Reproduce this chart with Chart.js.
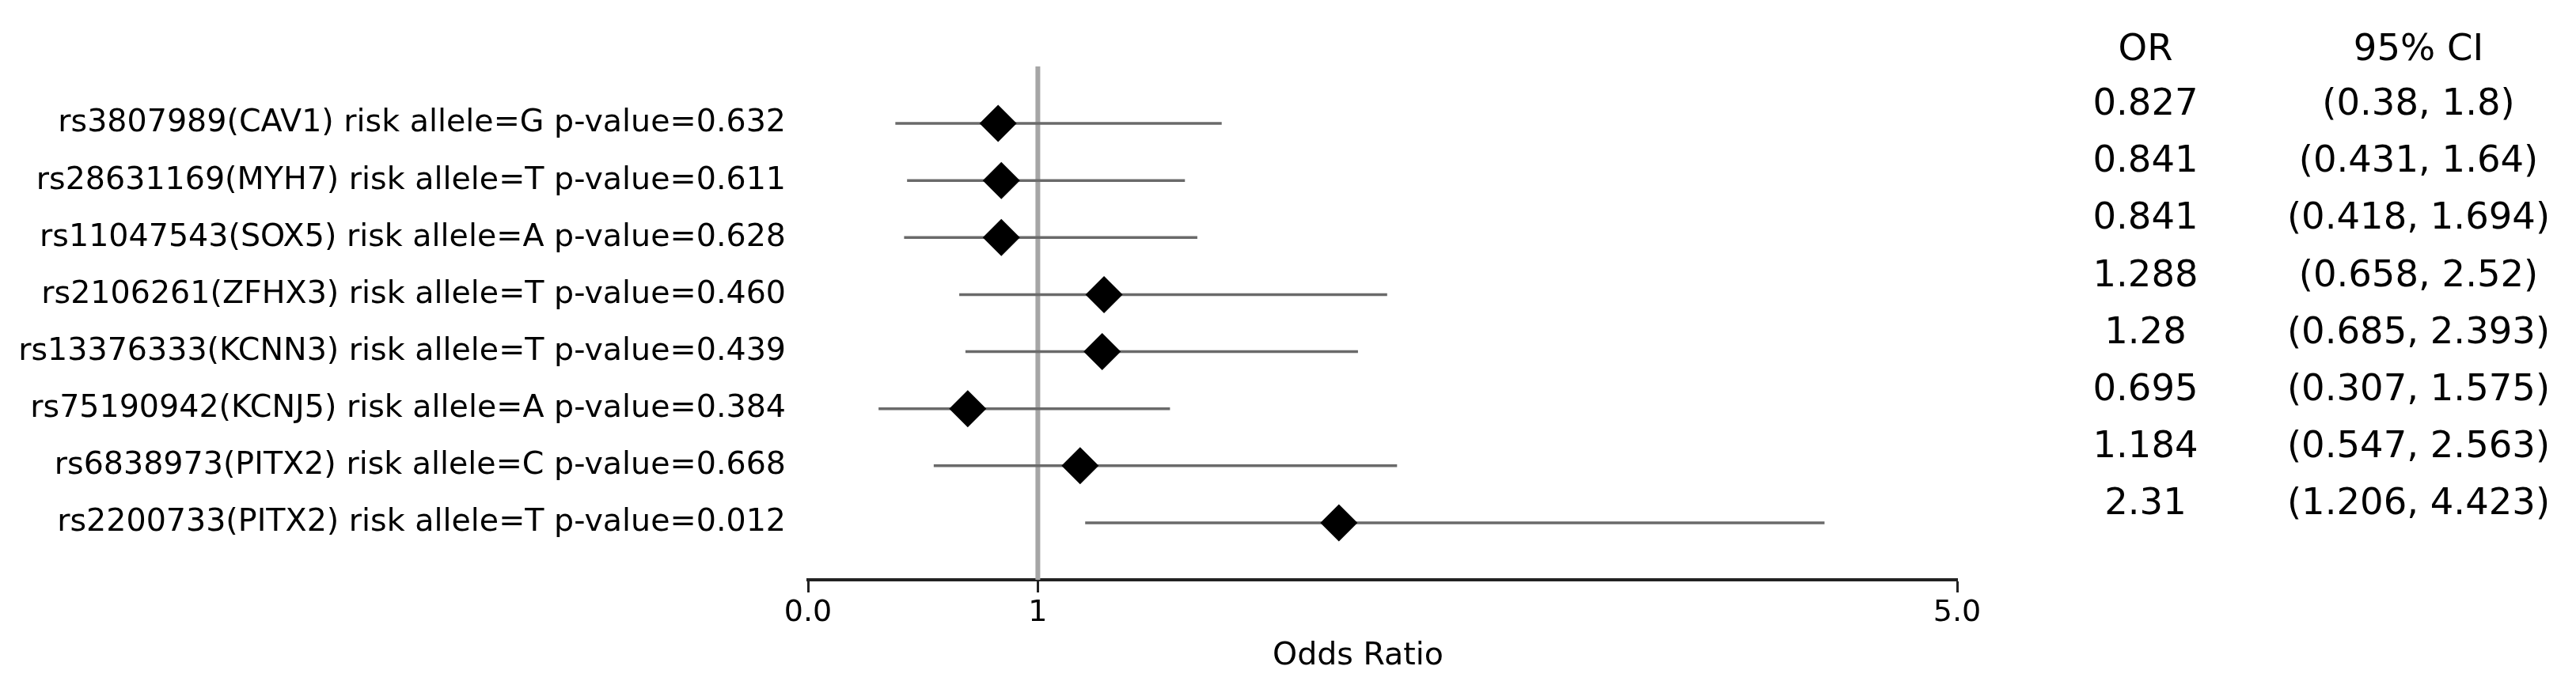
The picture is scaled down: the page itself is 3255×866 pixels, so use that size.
<!DOCTYPE html>
<html>
<head>
<meta charset="utf-8">
<script src="https://cdn.jsdelivr.net/npm/chart.js@4"></script>
<style>
  body { margin: 0; background: #fff; }
  canvas { display: block; }
</style>
</head>
<body>
<canvas id="forest" width="3255" height="866"></canvas>
<script>
const rowLabels = [
  "rs3807989(CAV1) risk allele=G p-value=0.632",
  "rs28631169(MYH7) risk allele=T p-value=0.611",
  "rs11047543(SOX5) risk allele=A p-value=0.628",
  "rs2106261(ZFHX3) risk allele=T p-value=0.460",
  "rs13376333(KCNN3) risk allele=T p-value=0.439",
  "rs75190942(KCNJ5) risk allele=A p-value=0.384",
  "rs6838973(PITX2) risk allele=C p-value=0.668",
  "rs2200733(PITX2) risk allele=T p-value=0.012"
];
const orValues = [0.827, 0.841, 0.841, 1.288, 1.28, 0.695, 1.184, 2.31];
const ciLow = [0.38, 0.431, 0.418, 0.658, 0.685, 0.307, 0.547, 1.206];
const ciHigh = [1.8, 1.64, 1.694, 2.52, 2.393, 1.575, 2.563, 4.423];
const xTicks = [0, 1, 5];
const xTickLabels = ["0.0", "1", "5.0"];
const refLine = 1;

const FONT = "'DejaVu Sans', sans-serif";

// one line per confidence interval
const ciSets = orValues.map((v, i) => ({
  type: "line",
  data: [{ x: ciLow[i], y: i }, { x: ciHigh[i], y: i }],
  borderColor: "#6a6a6a",
  borderWidth: 3.5,
  pointRadius: 0,
  order: 1
}));

// side table + axis title
const tablePlugin = {
  id: "tablePlugin",
  afterDraw(chart) {
    const ctx = chart.ctx;
    const y = chart.scales.y;
    const shift = 23;
    ctx.save();
    ctx.fillStyle = "#000";
    ctx.textAlign = "center";
    ctx.textBaseline = "middle";
    ctx.font = "46.5px " + FONT;
    ctx.fillText("OR", 2711, y.getPixelForValue(-1) - shift + 3);
    ctx.fillText("95% CI", 3056, y.getPixelForValue(-1) - shift + 3);
    orValues.forEach((v, i) => {
      const py = y.getPixelForValue(i) - shift;
      ctx.fillText(String(v), 2711, py);
      ctx.fillText("(" + ciLow[i] + ", " + ciHigh[i] + ")", 3056, py);
    });
    ctx.font = "39.5px " + FONT;
    ctx.fillText("Odds Ratio", 1716, 830);
    ctx.restore();
  }
};

new Chart(document.getElementById("forest"), {
  type: "scatter",
  data: {
    datasets: [
      {
        data: orValues.map((v, i) => ({ x: v, y: i })),
        pointStyle: "rectRot",
        pointRadius: 23.5,
        pointHoverRadius: 23.5,
        backgroundColor: "#000",
        borderColor: "#000",
        borderWidth: 0,
        order: 0
      },
      ...ciSets,
      {
        type: "line",
        data: [{ x: refLine, y: -1 }, { x: refLine, y: 8 }],
        borderColor: "#a6a6a6",
        borderWidth: 6,
        pointRadius: 0,
        order: 2
      }
    ]
  },
  options: {
    responsive: false,
    animation: false,
    events: [],
    layout: { padding: { left: 0, right: 782, top: 84, bottom: 53 } },
    plugins: { legend: { display: false }, tooltip: { enabled: false } },
    scales: {
      x: {
        type: "linear",
        min: 0,
        max: 5,
        afterBuildTicks: s => { s.ticks = xTicks.map(v => ({ value: v })); },
        afterFit: s => { s.height = 80; s.paddingLeft = 0; s.paddingRight = 0; },
        ticks: {
          callback: (v) => xTickLabels[xTicks.indexOf(v)],
          color: "#000",
          font: { family: FONT, size: 38 },
          padding: 3,
          maxRotation: 0,
          autoSkip: false
        },
        grid: { drawOnChartArea: false, drawTicks: true, tickLength: 16, tickColor: "#222", tickWidth: 3 },
        border: { color: "#222", width: 4 }
      },
      y: {
        type: "linear",
        reverse: true,
        min: -1,
        max: 8,
        afterBuildTicks: s => { s.ticks = rowLabels.map((l, i) => ({ value: i })); },
        afterFit: s => { s.width = 1021; s.paddingTop = 0; s.paddingBottom = 0; },
        ticks: {
          callback: (v) => rowLabels[v],
          color: "#000",
          font: { family: FONT, size: 39.6 },
          padding: 28,
          autoSkip: false
        },
        grid: { display: false, drawTicks: false },
        border: { display: false }
      }
    }
  },
  plugins: [tablePlugin]
});
</script>
</body>
</html>
